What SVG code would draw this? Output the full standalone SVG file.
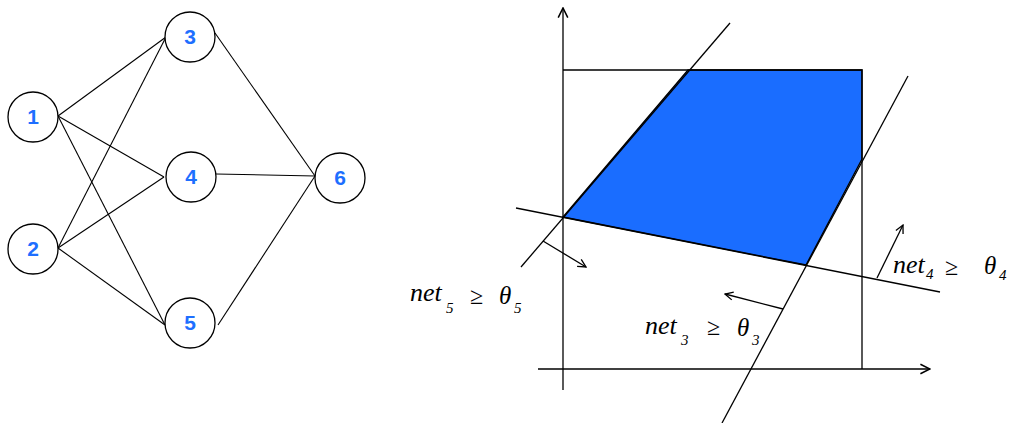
<svg xmlns="http://www.w3.org/2000/svg" width="1009" height="423" viewBox="0 0 1009 423">
<defs>
<style>
.node circle{fill:#fff;stroke:#000;stroke-width:1.3}
.node text{font-family:"Liberation Sans",Arial,sans-serif;font-weight:bold;font-size:21px;fill:#1e6fff;text-anchor:middle}
.edge{stroke:#000;stroke-width:1.1;fill:none}
.ln{stroke:#000;stroke-width:1.3;fill:none}
.lbl{font-family:"Liberation Serif","Times New Roman",serif;font-style:italic;font-size:26px;fill:#000}
.sub{font-family:"Liberation Serif","Times New Roman",serif;font-style:italic;font-size:15px;fill:#000}
.ge{font-family:"Liberation Serif","Times New Roman",serif;font-size:24px;fill:#000}
.th{font-family:"Liberation Serif","Times New Roman",serif;font-style:italic;font-size:25px;fill:#000}
</style>
<marker id="open" viewBox="0 0 10 10" refX="9" refY="5" markerWidth="10" markerHeight="10" markerUnits="userSpaceOnUse" orient="auto">
<path d="M1,1 L9,5 L1,9" fill="none" stroke="#000" stroke-width="1.3"/>
</marker>
<marker id="axis" viewBox="0 0 10 10" refX="9" refY="5" markerWidth="12" markerHeight="12" markerUnits="userSpaceOnUse" orient="auto">
<path d="M1,1 L9,5 L1,9" fill="none" stroke="#000" stroke-width="1.3"/>
</marker>
</defs>
<rect width="1009" height="423" fill="#fff"/>
<g id="connectors">
<line class="edge" x1="58" y1="116" x2="166" y2="37"/>
<line class="edge" x1="58" y1="116" x2="164" y2="177"/>
<line class="edge" x1="58" y1="116" x2="165" y2="325"/>
<line class="edge" x1="58" y1="248" x2="166" y2="37"/>
<line class="edge" x1="58" y1="248" x2="164" y2="177"/>
<line class="edge" x1="58" y1="248" x2="165" y2="325"/>
<line class="edge" x1="215" y1="33" x2="315" y2="176"/>
<line class="edge" x1="216" y1="174" x2="315" y2="176"/>
<line class="edge" x1="218" y1="325" x2="315" y2="176"/>
</g>
<g id="n1" class="node"><circle cx="33" cy="117" r="25"/><text x="33" y="124">1</text></g>
<g id="n2" class="node"><circle cx="33" cy="249" r="25"/><text x="33" y="256">2</text></g>
<g id="n3" class="node"><circle cx="190" cy="37" r="25"/><text x="190" y="44">3</text></g>
<g id="n4" class="node"><circle cx="191" cy="177" r="25"/><text x="191" y="184">4</text></g>
<g id="n5" class="node"><circle cx="190" cy="323" r="25"/><text x="190" y="330">5</text></g>
<g id="n6" class="node"><circle cx="340" cy="178" r="25"/><text x="340" y="185">6</text></g>

<g id="region">
<polygon points="563,217 688,70 862,70 862,159 806,265" fill="#1a6dff" stroke="#000" stroke-width="1.3"/>
<polyline class="ln" points="563,70 862,70 862,369"/>
<line class="ln" x1="563" y1="390" x2="563" y2="8" marker-end="url(#axis)"/>
<line class="ln" x1="538" y1="369" x2="930" y2="369" marker-end="url(#axis)"/>
<line class="ln" x1="521" y1="267" x2="730" y2="23"/>
<line class="ln" x1="516" y1="208" x2="940" y2="292"/>
<line class="ln" x1="908" y1="76" x2="722" y2="423"/>
<line class="ln" x1="543" y1="241" x2="586" y2="267" marker-end="url(#open)"/>
<line class="ln" x1="783" y1="309" x2="725" y2="294" marker-end="url(#open)"/>
<line class="ln" x1="877" y1="278" x2="903" y2="225" marker-end="url(#open)"/>
</g>
<g id="labels">
<text class="lbl" x="410" y="301">net</text><text class="sub" x="446" y="313">5</text><text class="ge" x="470" y="304">≥</text><text class="th" x="499" y="304">θ</text><text class="sub" x="514" y="313">5</text>
<text class="lbl" x="645" y="334">net</text><text class="sub" x="681" y="345">3</text><text class="ge" x="707" y="335">≥</text><text class="th" x="737" y="336">θ</text><text class="sub" x="752" y="345">3</text>
<text class="lbl" x="893" y="273">net</text><text class="sub" x="926" y="279">4</text><text class="ge" x="945" y="275">≥</text><text class="th" x="984" y="274">θ</text><text class="sub" x="999" y="280">4</text>
</g>
</svg>
